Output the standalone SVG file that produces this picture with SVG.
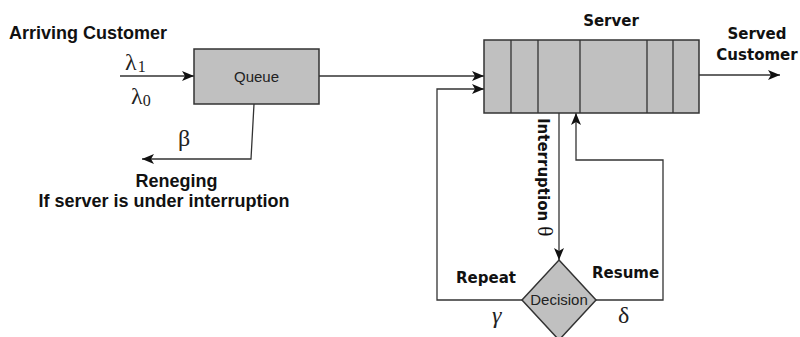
<svg xmlns="http://www.w3.org/2000/svg" width="800" height="337" viewBox="0 0 800 337">
<defs>
<marker id="ah" viewBox="0 0 12 10" refX="12" refY="5" markerWidth="12" markerHeight="10" markerUnits="userSpaceOnUse" orient="auto">
<path d="M0,0 L12,5 L0,10 L3,5 Z" fill="#111"/>
</marker>
<style>
.box{fill:#c0c0c0;stroke:#333;stroke-width:1.5}
.ln{fill:none;stroke:#333;stroke-width:1.3}
.a{font-family:"Liberation Sans",Arial,sans-serif;font-weight:bold;font-size:18px;fill:#111}
.d{font-family:"DejaVu Sans",Verdana,sans-serif;font-weight:bold;font-size:15px;fill:#111}
.n{font-family:"Liberation Sans",Arial,sans-serif;font-size:15px;fill:#222}
.g{font-family:"Liberation Serif","Times New Roman",serif;font-size:24px;fill:#222}
</style>
</defs>
<rect width="800" height="337" fill="#fff"/>
<g id="labels">
<text class="a" x="9" y="39">Arriving Customer</text>
<text class="g" x="125" y="70">λ<tspan font-size="16" dx="1" dy="2">1</tspan></text>
<text class="g" x="131" y="104">λ<tspan font-size="16" dy="2">0</tspan></text>
<text class="g" x="178" y="146">β</text>
<text class="a" x="176.5" y="187" text-anchor="middle">Reneging</text>
<text class="a" x="164" y="207" text-anchor="middle">If server is under interruption</text>
<text class="d" x="611" y="26" text-anchor="middle">Server</text>
<text class="d" x="757" y="39" text-anchor="middle">Served</text>
<text class="d" x="757" y="60" text-anchor="middle">Customer</text>
<text class="d" font-size="16" transform="translate(538,118) rotate(90)">Interruption <tspan font-family="Liberation Serif,serif" font-weight="normal" font-size="21">θ</tspan></text>
<text class="d" font-size="14.5" x="456" y="283">Repeat</text>
<text class="d" font-size="14.5" x="592" y="278">Resume</text>
<text class="g" x="492" y="323" font-style="italic">γ</text>
<text class="g" x="618" y="323">δ</text>
</g>
<g id="connectors">
<path class="ln" d="M120,76 H194" marker-end="url(#ah)"/>
<path class="ln" d="M319,76 H484" marker-end="url(#ah)"/>
<path class="ln" d="M522,300 L437,300 V89 H484" marker-end="url(#ah)"/>
<path class="ln" d="M699,75 H780" marker-end="url(#ah)"/>
<path class="ln" d="M559,113 V260" marker-end="url(#ah)"/>
<path class="ln" d="M596,300 H663 V160 H576 V113" marker-end="url(#ah)"/>
<path class="ln" d="M254,104 L251,159 H142" marker-end="url(#ah)"/>
</g>
<g id="queue">
<rect class="box" x="194" y="49" width="125" height="55"/>
<text class="n" font-size="16" x="256.5" y="82" text-anchor="middle">Queue</text>
</g>
<g id="server">
<rect class="box" x="484" y="40" width="215" height="73"/>
<path class="ln" d="M511,40 V113 M538,40 V113 M580,40 V113 M647,40 V113 M673,40 V113"/>
</g>
<g id="decision">
<polygon class="box" points="559,260 596,300 559,340 522,300"/>
<text class="n" font-size="13.5" x="559" y="305" text-anchor="middle">Decision</text>
</g>
</svg>
